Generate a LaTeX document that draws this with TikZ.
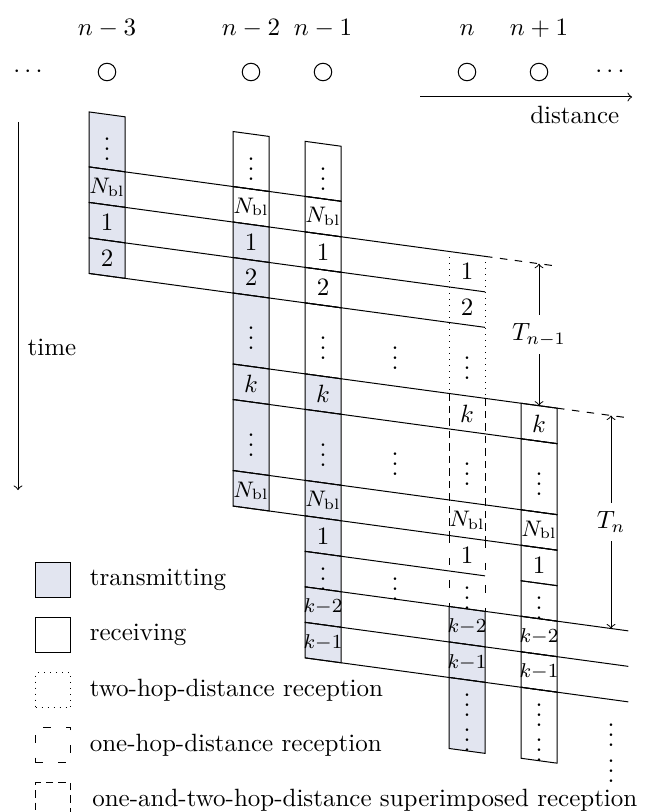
\documentclass[tikz,border=0pt]{standalone}
\usepackage{amsmath}
\usepackage{amssymb}
\usetikzlibrary{positioning}

\definecolor{txgray}{RGB}{226,229,240}
\newcommand{\Nbl}{{\small$N_{\mathrm{bl}}$}}
\newcommand{\kmin}[1]{{\footnotesize$k{-}#1$}}
\newcommand{\vd}{$\vdots$}
\newcommand{\tvd}{\vbox{\offinterlineskip\hbox{$\vdots$}\kern-1pt\hbox{$\vdots$}}}

\begin{document}
\begin{tikzpicture}[
  x=0.4pt, y=-0.4pt,
  mynode/.style={draw,circle,minimum size=7pt,inner sep=0pt},
  toplabel/.style={text height=1.6ex,text depth=0.3ex},
  tx/.style={draw,fill=txgray},
  rx/.style={draw},
  twohop/.style={dotted},
  onehop/.style={loosely dashed},
  bothhop/.style={densely dashed},
  legbox/.style={minimum size=14pt,inner sep=0pt}
]
\useasboundingbox (0,0) rectangle (648,812);

% nodes on the line
\node[mynode] (n3) at (107,72) {};
\node[mynode] (n2) at (251,72) {};
\node[mynode] (n1) at (323,72) {};
\node[mynode] (n0) at (467,72) {};
\node[mynode] (np) at (539,72) {};
\node[toplabel,above=6pt of n3] {$n-3$};
\node[toplabel,above=6pt of n2] {$n-2$};
\node[toplabel,above=6pt of n1] {$n-1$};
\node[toplabel,above=6pt of n0] {$n$};
\node[toplabel,above=6pt of np] {$n+1$};
\node (ldots) at (30,72) {$\cdots$};
\node (rdots) at (612,72) {$\cdots$};

% axes
\coordinate (d0) at (420,97);
\coordinate (d1) at (632,97);
\draw[->] (d0) -- (d1) node[pos=0.73,below] {distance};
\coordinate (t0) at (18,122);
\coordinate (t1) at (18,490);
\draw[->] (t0) -- (t1);
\node (time) at (52,347) {time};

% slots, x = node position, y = slot
\begin{scope}[shift={(107,169.4)},x={(28.8pt,-3.92pt)},y={(0pt,-14.2pt)}]
\foreach \p/\ta/\tb/\lab/\sty in {
  0/-1.55/0/\vd/tx, 0/0/1/\Nbl/tx, 0/1/2/$1$/tx, 0/2/3/$2$/tx,
  2/-1.55/0/\vd/rx, 2/0/1/\Nbl/rx, 2/1/2/$1$/tx, 2/2/3/$2$/tx,
  2/3/5/\vd/tx, 2/5/6/$k$/tx, 2/6/8/\vd/tx, 2/8/9/\Nbl/tx,
  3/-1.55/0/\vd/rx, 3/0/1/\Nbl/rx, 3/1/2/$1$/rx, 3/2/3/$2$/rx,
  3/3/5/\vd/rx, 3/5/6/$k$/tx, 3/6/8/\vd/tx, 3/8/9/\Nbl/tx,
  3/9/10/$1$/tx, 3/10/11/\vd/tx, 3/11/12/\kmin{2}/tx, 3/12/13/\kmin{1}/tx,
  5/11/12/\kmin{2}/tx, 5/12/13/\kmin{1}/tx, 5/13/15/\tvd/tx,
  6/5/6/$k$/rx, 6/6/8/\vd/rx, 6/8/9/\Nbl/rx, 6/9/10/$1$/rx,
  6/10/11/\vd/rx, 6/11/12/\kmin{2}/rx, 6/12/13/\kmin{1}/rx, 6/13/15/\tvd/rx}
{
  \draw[\sty] (\p-0.25,\ta) -- (\p+0.25,\ta) -- (\p+0.25,\tb) -- (\p-0.25,\tb) -- cycle;
  \node at (\p,{(\ta+\tb)/2}) {\lab};
}

% reception at node n
\foreach \ta/\tb/\sty in {1/5/twohop, 5/9/bothhop, 9/11/onehop}
  \draw[\sty] (4.75,\ta) -- (4.75,\tb) (5.25,\ta) -- (5.25,\tb);
\foreach \t/\lab in {1.5/$1$, 2.5/$2$, 4/\vd, 5.5/$k$, 7/\vd, 8.5/\Nbl, 9.5/$1$, 10.5/\vd}
  \node at (5,\t) {\lab};

% propagation lines
\foreach \t/\a/\b in {0/-0.25/3.25, 1/-0.25/5.25, 2/-0.25/5.25, 3/-0.25/5.25,
  5/1.75/6.25, 6/1.75/6.25, 8/1.75/6.25, 9/1.75/6.25, 10/2.75/5.25,
  11/2.75/7.24, 12/2.75/7.24, 13/2.75/7.24}
  \draw (\a,\t) -- (\b,\t);
\draw[dashed] (5.25,1) -- (6.22,1);
\draw[dashed] (6.25,5) -- (7.24,5);

\node at (4,4) {\vd};
\node at (4,7) {\vd};
\node at (4,10.5) {\vd};
\node at (7,14.3) {\tvd};

\coordinate (a1) at (6,1);
\coordinate (a2) at (6,5);
\coordinate (a3) at (7,5);
\coordinate (a4) at (7,11);
\draw[<->] (a1) -- node[fill=white] {$T_{n-1}$} (a2);
\draw[<->] (a3) -- node[fill=white] {$T_n$} (a4);
\end{scope}

% legend
\node[legbox,tx] (ltx) at (53,580) {};
\node[legbox,rx,below=7.6pt of ltx] (lrx) {};
\node[legbox,draw,twohop,below=7.6pt of lrx] (ltwo) {};
\node[legbox,draw,onehop,below=7.6pt of ltwo] (lone) {};
\node[legbox,draw,bothhop,below=7.6pt of lone] (lboth) {};
\node[right=4pt of ltx] {transmitting};
\node[right=4pt of lrx] {receiving};
\node[right=4pt of ltwo] {two-hop-distance reception};
\node[right=4pt of lone] {one-hop-distance reception};
\node[right=5pt of lboth] {one-and-two-hop-distance superimposed reception};

\end{tikzpicture}
\end{document}
